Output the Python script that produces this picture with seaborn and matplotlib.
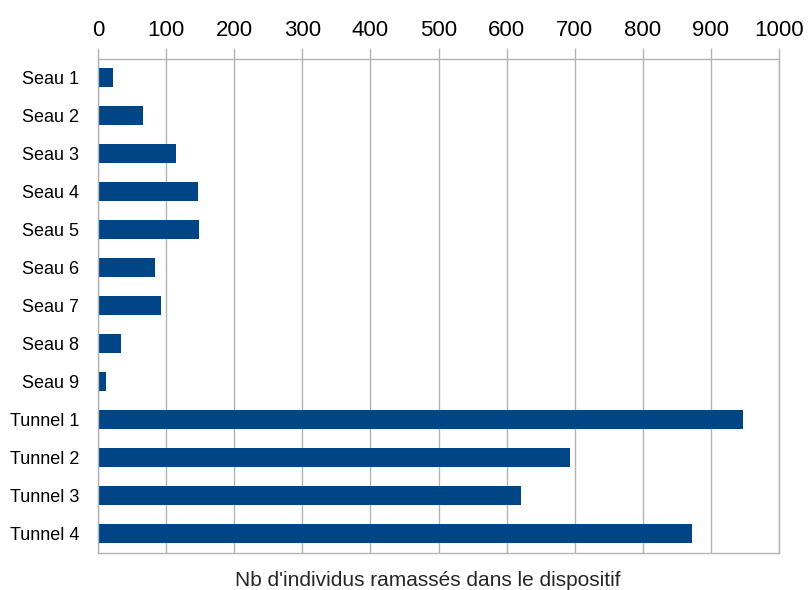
import matplotlib
matplotlib.use('Agg')
import matplotlib.pyplot as plt
import seaborn as sns
import numpy as np
import pandas as pd

# données
dispositifs = ['Seau 1', 'Seau 2', 'Seau 3', 'Seau 4', 'Seau 5', 'Seau 6', 'Seau 7',
               'Seau 8', 'Seau 9', 'Tunnel 1', 'Tunnel 2', 'Tunnel 3', 'Tunnel 4']
nb_individus = [22, 65, 114, 146, 148, 83, 92, 33, 11, 947, 693, 621, 872]
graduations = list(range(0, 1001, 100))

df = pd.DataFrame({'dispositif': dispositifs, 'nb': nb_individus})

sns.set_style('white')
plt.rcParams['font.family'] = ['Liberation Sans', 'DejaVu Sans']

fig = plt.figure(figsize=(8.08, 5.90), dpi=100)
ax = fig.add_axes([0.1217, 0.0632, 0.842, 0.8368])

gris = '#b3b3b3'
sns.barplot(data=df, x='nb', y='dispositif', orient='h', color='#004586',
            width=0.5, linewidth=0, saturation=1, ax=ax)

ax.set_xlim(0, 1000)
ax.set_xticks(graduations)
ax.set_xticklabels([str(g) for g in graduations], fontsize=16)
ax.xaxis.tick_top()
ax.tick_params(axis='x', which='major', direction='out', length=8, width=1,
               color=gris, pad=5, labelcolor='black')
ax.grid(axis='x', color=gris, linewidth=1)
ax.set_axisbelow(True)

# graduations des catégories aux limites
ax.set_yticks(np.arange(-0.5, len(dispositifs), 1), minor=True)
ax.tick_params(axis='y', which='minor', direction='out', length=7, width=1, color=gris)
ax.tick_params(axis='y', which='major', length=0, pad=14, labelsize=13, labelcolor='black')

for s in ax.spines.values():
    s.set_visible(True)
    s.set_color(gris)
    s.set_linewidth(1)

ax.set_xlabel('')
ax.set_ylabel('')

fig.text(0.5297, 1 - 571 / 590, "Nb d'individus ramassés dans le dispositif",
         ha='center', va='top', fontsize=15)

plt.savefig('out.png', dpi=100)
